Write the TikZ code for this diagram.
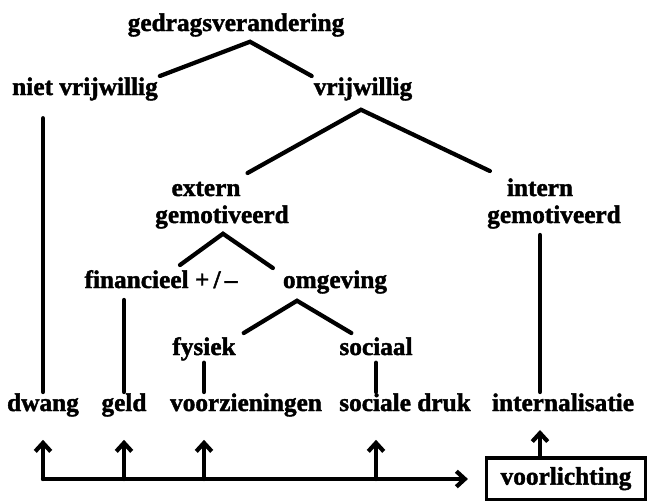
\documentclass[tikz,border=0pt]{standalone}
\usepackage{fontspec}
\setmainfont{Liberation Serif}[BoldFeatures={FakeBold=1.6}]
\usetikzlibrary{arrows.meta,positioning,calc}

\begin{document}
\begin{tikzpicture}[x=0.025cm,y=-0.025cm,line width=3pt,line cap=round,
       >={Straight Barb[length=6pt,width=11pt]}]
       \tikzstyle{every node}=[font=\bfseries\fontsize{18}{20}\selectfont,inner sep=0pt,text height=12pt,text depth=4pt]
       \tikzstyle{lbl}=[anchor=base]
       \useasboundingbox (0,0) rectangle (648,500);

       \node[lbl] (ged) at (236,31) {gedragsverandering};
       \node[lbl] (nvw) at (85,95) {niet vrijwillig};
       \node[lbl] (vw) at (363,95) {vrijwillig};
       \node[lbl] (ext) at (206,196) {extern};
       \node[lbl] (extg) at (222,223) {gemotiveerd};
       \node[lbl] (int) at (540,196) {intern};
       \node[lbl] (intg) at (554,223) {gemotiveerd};
       \node[lbl] (fin) at (161,288) {financieel +\,/\,–};
       \node[lbl] (omg) at (335,288) {omgeving};
       \node[lbl] (fys) at (204,355) {fysiek};
       \node[lbl] (soc) at (376,355) {sociaal};
       \node[lbl] (dw) at (43,411) {dwang};
       \node[lbl] (gd) at (124,411) {geld};
       \node[lbl] (vz) at (246,411) {voorzieningen};
       \node[lbl] (sd) at (405,411) {sociale druk};
       \node[lbl] (inl) at (563,411) {internalisatie};
       \node[draw,line width=2.5pt,minimum width=113pt,minimum height=30pt] (vl) at (566,479) {voorlichting};

       % boom
       \draw (nvw.north east) -- ($(ged.south)+(14,3)$) -- (vw.north west);
       \draw ($(ext.north east)+(5,-4)$) -- ($(vw.south)+(-2,7)$) -- ($(int.north west)+(-15,-6)$);
       \draw ($(fin.north)+(19,-4)$) -- ($(extg.south)+(1,3)$) -- ($(omg.north west)+(-8,-1)$);
       \draw ($(fys.north east)+(6,-3)$) -- ($(omg.south)+(-38,5)$) -- ($(soc.north west)+(14,-3)$);

       \draw[shorten <=11pt] (dw.north |- nvw.south) -- (dw.north);
       \draw[shorten <=3pt] (gd.north |- fin.south) -- (gd.north);
       \draw (fys.south) -- (fys.south |- vz.north);
       \draw (soc.south) -- (soc.south |- sd.north);
       \draw[shorten <=3pt] (int.south |- intg.south) -- (int.south |- inl.north);

       % voorlichting
       \coordinate (hl) at (dw.south |- vl.west);
       \draw[->,shorten >=12pt] (hl) -- (vl.west);
       \foreach \n in {dw,gd}
         \draw[->,shorten >=15pt] (\n.south |- hl) -- (\n.south);
       \draw[->,shorten >=15pt] (fys.south |- hl) -- (fys.south |- vz.south);
       \draw[->,shorten >=15pt] (soc.south |- hl) -- (soc.south |- sd.south);
       \draw[->,shorten >=8pt] (int.south |- vl.north) -- (int.south |- inl.south);
     \end{tikzpicture}
\end{document}
